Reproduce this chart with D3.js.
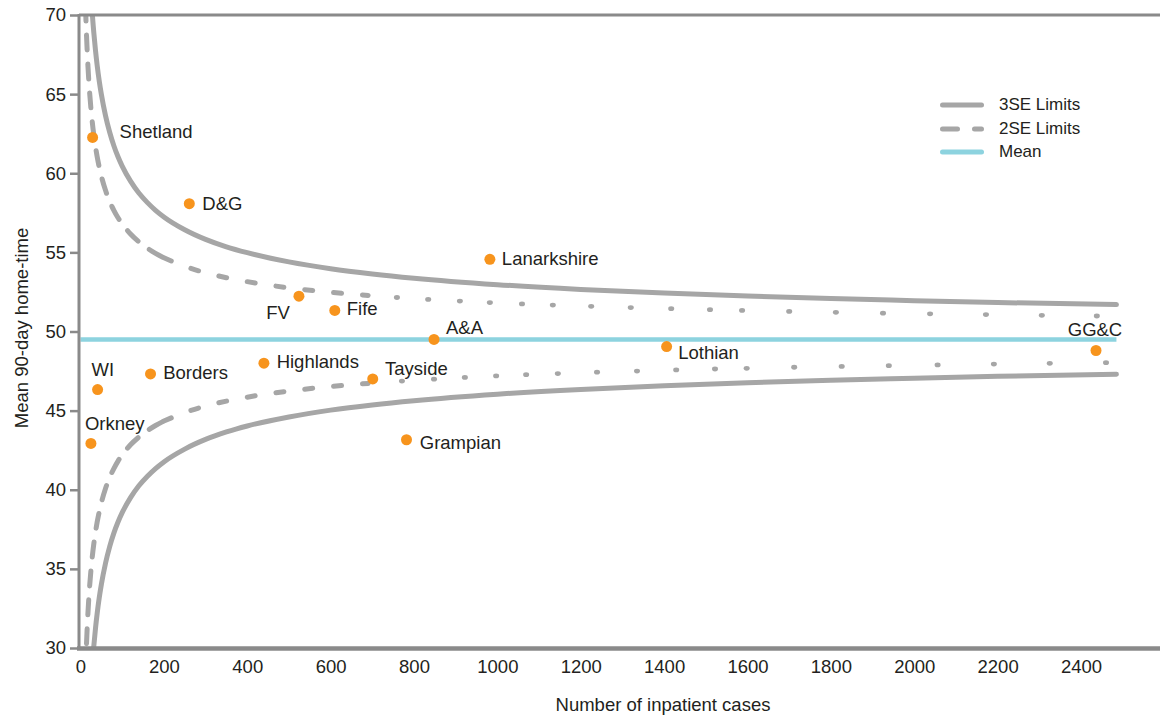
<!DOCTYPE html>
<html>
<head>
<meta charset="utf-8">
<script src="https://cdn.jsdelivr.net/npm/d3@7/dist/d3.min.js"></script>
<style>
  html, body { margin: 0; padding: 0; background: #ffffff; }
  svg { display: block; }
  text { font-family: "Liberation Sans", Arial, sans-serif; fill: #231f20; }
</style>
</head>
<body>
<svg id="chart" width="1160" height="715"></svg>
<script>
// ---------------- DATA ----------------
const xTicks = [0, 200, 400, 600, 800, 1000, 1200, 1400, 1600, 1800, 2000, 2200, 2400];
const yTicks = [30, 35, 40, 45, 50, 55, 60, 65, 70];

const regions  = ["Shetland", "D&G", "Lanarkshire", "FV", "Fife", "A&A", "Lothian", "GG&C", "WI", "Borders", "Highlands", "Tayside", "Orkney", "Grampian"];
const cases    = [29, 261, 982, 524, 610, 848, 1406, 2436, 41, 168, 440, 701, 25, 782];
const homeTime = [62.26, 58.08, 54.56, 52.23, 51.33, 49.50, 49.05, 48.80, 46.33, 47.32, 48.00, 47.00, 42.93, 43.16];

const meanValue = 49.5;
const meanRange = [0, 2485];

// 3SE limits
const limitN      = [20, 22, 25, 28, 32, 36, 40, 45, 50, 60, 70, 80, 90, 100, 120, 140, 160, 180, 200, 250, 300, 350, 400, 500, 600, 700, 800, 1000, 1200, 1400, 1600, 1800, 2000, 2200, 2485];
const upper3SE    = [73.99, 72.85, 71.40, 70.19, 68.86, 67.75, 66.81, 65.82, 64.99, 63.64, 62.59, 61.74, 61.04, 60.45, 59.50, 58.75, 58.16, 57.66, 57.24, 56.43, 55.82, 55.35, 54.98, 54.40, 53.97, 53.64, 53.37, 52.96, 52.66, 52.43, 52.24, 52.08, 51.95, 51.83, 51.70];
const lower3SE    = [25.01, 26.15, 27.60, 28.81, 30.14, 31.25, 32.19, 33.18, 34.01, 35.36, 36.41, 37.26, 37.96, 38.55, 39.50, 40.25, 40.84, 41.34, 41.76, 42.57, 43.18, 43.65, 44.03, 44.60, 45.03, 45.36, 45.63, 46.04, 46.34, 46.57, 46.76, 46.92, 47.05, 47.17, 47.30];

// 2SE limits, dashed part
const dashN       = [12, 14, 16, 18, 20, 22, 25, 28, 32, 36, 40, 45, 50, 60, 70, 80, 90, 100, 120, 140, 160, 180, 200, 250, 300, 350, 400, 500, 600, 690];
const upper2SE    = [70.57, 69.01, 67.75, 66.71, 65.82, 65.06, 64.10, 63.29, 62.40, 61.67, 61.04, 60.38, 59.82, 58.92, 58.22, 57.66, 57.19, 56.80, 56.16, 55.67, 55.27, 54.94, 54.66, 54.12, 53.71, 53.40, 53.15, 52.76, 52.48, 52.28];
const lower2SE    = [28.43, 29.99, 31.25, 32.29, 33.18, 33.94, 34.90, 35.71, 36.60, 37.33, 37.96, 38.62, 39.18, 40.08, 40.78, 41.34, 41.81, 42.20, 42.84, 43.33, 43.73, 44.06, 44.34, 44.88, 45.29, 45.60, 45.85, 46.24, 46.52, 46.72];

// 2SE limits, dotted tail
const upperDotN   = [759, 834, 910, 982, 1059, 1133, 1225, 1320, 1417, 1510, 1587, 1700, 1812, 1925, 2038, 2172, 2306, 2438];
const upperDotV   = [52.15, 52.03, 51.92, 51.83, 51.74, 51.67, 51.59, 51.51, 51.44, 51.38, 51.33, 51.27, 51.21, 51.16, 51.12, 51.07, 51.02, 50.98];
const lowerDotN   = [771, 848, 922, 997, 1069, 1145, 1239, 1335, 1429, 1522, 1598, 1712, 1826, 1939, 2056, 2191, 2325, 2460];
const lowerDotV   = [46.87, 46.99, 47.10, 47.19, 47.27, 47.34, 47.43, 47.50, 47.57, 47.63, 47.67, 47.74, 47.79, 47.84, 47.89, 47.94, 47.99, 48.03];

const legendItems = ["3SE Limits", "2SE Limits", "Mean"];

// ---------------- STYLE / LAYOUT ----------------
const limitColor = "#a6a6a6";
const meanColor  = "#8dd3df";
const dotColor   = "#f7941d";
const axisColor  = "#8a8a8a";
// label placement relative to each dot: [dx, dy, anchor]
const labelPlace = [
  [27, -5.6, "start"], [13, -0.6, "start"], [12, -1, "start"], [-9, 16, "end"],
  [12, -2, "start"], [12, -12.3, "start"], [11.6, 5.7, "start"], [-1, -20.7, "middle"],
  [-6, -19.7, "start"], [12.6, -1.6, "start"], [12.7, -2, "start"], [12.3, -10, "start"],
  [-6, -20, "start"], [13.3, 2.7, "start"]
];

const svg = d3.select("#chart");
const x = d3.scaleLinear().domain([0, 2400]).range([80.5, 1081]);
const y = d3.scaleLinear().domain([30, 70]).range([648, 15]);

// clip for plot area
svg.append("defs").append("clipPath").attr("id", "plotClip")
  .append("rect").attr("x", 79).attr("y", 15).attr("width", 1081).attr("height", 633);

const plot = svg.append("g").attr("clip-path", "url(#plotClip)");

const line = d3.line().x(d => x(d[0])).y(d => y(d[1])).curve(d3.curveMonotoneX);

// 3SE
[upper3SE, lower3SE].forEach(vals => {
  plot.append("path")
    .attr("d", line(limitN.map((n, i) => [n, vals[i]])))
    .attr("fill", "none").attr("stroke", limitColor).attr("stroke-width", 5)
    .attr("stroke-linecap", "round");
});

// 2SE dashed parts: steep portion and flatter portion
[upper2SE, lower2SE].forEach(vals => {
  const pts = dashN.map((n, i) => [n, vals[i]]);
  const steep = pts.filter(d => d[0] <= 200);
  const flat = pts.filter(d => d[0] >= 200);
  plot.append("path")
    .attr("d", line(steep))
    .attr("fill", "none").attr("stroke", limitColor).attr("stroke-width", 5)
    .attr("stroke-linecap", "round").attr("stroke-dasharray", "15 14");
  plot.append("path")
    .attr("d", line(flat))
    .attr("fill", "none").attr("stroke", limitColor).attr("stroke-width", 5)
    .attr("stroke-linecap", "round").attr("stroke-dasharray", "8 21");
});

// 2SE dotted tails
[[upperDotN, upperDotV], [lowerDotN, lowerDotV]].forEach(([ns, vs]) => {
  plot.selectAll(null).data(ns.map((n, i) => [n, vs[i]])).enter()
    .append("ellipse")
    .attr("cx", d => x(d[0])).attr("cy", d => y(d[1]))
    .attr("rx", 3).attr("ry", 2.4)
    .attr("fill", limitColor);
});

// Mean line
plot.append("path")
  .attr("d", d3.line().x(d => x(d[0])).y(d => y(d[1]))(meanRange.map(n => [n, meanValue])))
  .attr("fill", "none").attr("stroke", meanColor).attr("stroke-width", 4.5);

// Axes
const axes = svg.append("g");
axes.append("line").attr("x1", 79).attr("x2", 1160).attr("y1", 15).attr("y2", 15)
  .attr("stroke", axisColor).attr("stroke-width", 3);
axes.append("line").attr("x1", 79).attr("x2", 79).attr("y1", 14).attr("y2", 650)
  .attr("stroke", axisColor).attr("stroke-width", 3);
axes.append("line").attr("x1", 77).attr("x2", 1160).attr("y1", 648.5).attr("y2", 648.5)
  .attr("stroke", axisColor).attr("stroke-width", 4.5);

const yAxis = d3.axisLeft(y).tickValues(yTicks).tickSize(8).tickPadding(4).tickFormat(d3.format("d"));
const yg = svg.append("g").attr("transform", "translate(78,0)").call(yAxis);
yg.select(".domain").remove();
yg.selectAll(".tick line").attr("stroke", axisColor).attr("stroke-width", 2.5);
yg.selectAll(".tick text").style("font-size", "18.5px").attr("fill", "#231f20")
  .style("font-family", "'Liberation Sans', Arial, sans-serif");

const xAxis = d3.axisBottom(x).tickValues(xTicks).tickSize(0).tickPadding(10).tickFormat(d3.format("d"));
const xg = svg.append("g").attr("transform", "translate(0,650)").call(xAxis);
xg.select(".domain").remove();
xg.selectAll(".tick text").style("font-size", "18.5px").attr("fill", "#231f20")
  .style("font-family", "'Liberation Sans', Arial, sans-serif");

// Axis titles
svg.append("text").attr("x", 663).attr("y", 704).attr("text-anchor", "middle")
  .attr("dominant-baseline", "central").style("font-size", "18.5px")
  .text("Number of inpatient cases");
svg.append("text").attr("transform", "translate(21,328) rotate(-90)")
  .attr("text-anchor", "middle").attr("dominant-baseline", "central")
  .style("font-size", "18.5px").text("Mean 90-day home-time");

// Points
const pts = regions.map((r, i) => ({ r, n: cases[i], v: homeTime[i], p: labelPlace[i] }));
svg.selectAll("circle.pt").data(pts).enter().append("circle").attr("class", "pt")
  .attr("cx", d => x(d.n)).attr("cy", d => y(d.v)).attr("r", 5.5).attr("fill", dotColor);
svg.selectAll("text.lbl").data(pts).enter().append("text").attr("class", "lbl")
  .attr("x", d => x(d.n) + d.p[0]).attr("y", d => y(d.v) + d.p[1])
  .attr("text-anchor", d => d.p[2]).attr("dominant-baseline", "central")
  .style("font-size", "18.5px").text(d => d.r);

// Legend
const lg = svg.append("g");
const legY = [105, 129, 152];
legendItems.forEach((name, i) => {
  const l = lg.append("line").attr("x1", 942.5).attr("x2", 981.5).attr("y1", legY[i]).attr("y2", legY[i])
    .attr("stroke", i === 2 ? meanColor : limitColor).attr("stroke-width", 5)
    .attr("stroke-linecap", "round");
  if (i === 1) l.attr("stroke-dasharray", "15 17");
  lg.append("text").attr("x", 999).attr("y", legY[i] - 1).attr("dominant-baseline", "central")
    .style("font-size", "17px").text(name);
});
</script>
</body>
</html>
